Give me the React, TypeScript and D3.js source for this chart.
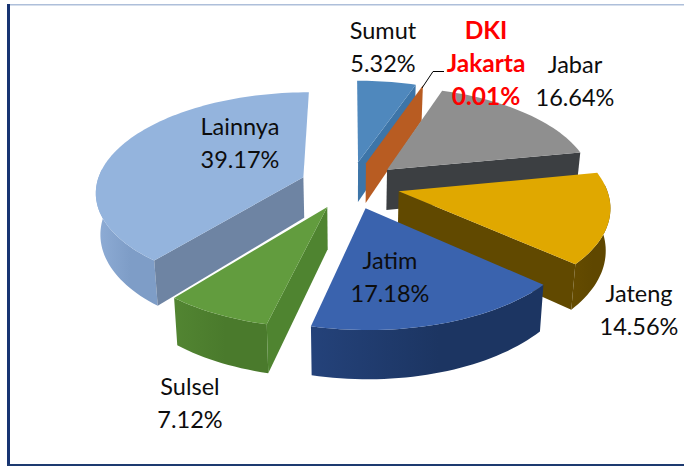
import React from 'react';
import * as d3 from 'd3';

const regions = ['Sumut', 'DKI Jakarta', 'Jabar', 'Jateng', 'Jatim', 'Sulsel', 'Lainnya'];
const shares = [5.32, 0.01, 16.64, 14.56, 17.18, 7.12, 39.17];
const shareLabels = ['5.32%', '0.01%', '16.64%', '14.56%', '17.18%', '7.12%', '39.17%'];

const width = 684;
const height = 466;

// pie geometry, fitted to the reference
const cx = 350;
const cy = 185;
const radius = 207;
const explode = 50;
const tilt = 0.475;
const persp = 0.135;
const depth = 41;
const converge = 0.018; // bottom of the walls leans in a little

const palette: Record<string, { top: string; wall: string; wallHi: string; cut: string }> = {
  Sumut: { top: '#4f88bd', wall: '#3f76a6', wallHi: '#3f76a6', cut: '#3d75a8' },
  'DKI Jakarta': { top: '#b85c22', wall: '#b85c22', wallHi: '#b85c22', cut: '#b85c22' },
  Jabar: { top: '#8f8f8f', wall: '#3c3f42', wallHi: '#45484c', cut: '#3c3f42' },
  Jateng: { top: '#e0a800', wall: '#5f4700', wallHi: '#654c00', cut: '#614900' },
  Jatim: { top: '#3a63ae', wall: '#1c3562', wallHi: '#24427a', cut: '#1c3562' },
  Sulsel: { top: '#629c3e', wall: '#4a7a2c', wallHi: '#528532', cut: '#4f8430' },
  Lainnya: { top: '#94b4dd', wall: '#7e9dc7', wallHi: '#8fadd6', cut: '#6e84a3' },
};

// back to front
const drawOrder = ['Sumut', 'DKI Jakarta', 'Lainnya', 'Jabar', 'Jateng', 'Sulsel', 'Jatim'];

const labelLayout: Record<string, { x: number; y: number; lines: string[]; red?: boolean }> = {
  Sumut: { x: 383, y: 39, lines: ['Sumut'] },
  'DKI Jakarta': { x: 486, y: 39, lines: ['DKI', 'Jakarta'], red: true },
  Jabar: { x: 575, y: 73, lines: ['Jabar'] },
  Jateng: { x: 639, y: 302, lines: ['Jateng'] },
  Jatim: { x: 390, y: 269, lines: ['Jatim'] },
  Sulsel: { x: 190, y: 395, lines: ['Sulsel'] },
  Lainnya: { x: 240, y: 135, lines: ['Lainnya'] },
};

const project = (gx: number, gy: number, z = 0): [number, number] => {
  const f = 1 / (1 + (persp * gy) / radius);
  const lean = 1 - (converge * z) / depth;
  return [cx + gx * f * lean, cy - gy * tilt * f + z * f];
};

const pieData = d3.pie<number>().sort(null)(shares);
const line = d3.line();

const slices = pieData.map((d, i) => {
  const mid = (d.startAngle + d.endAngle) / 2;
  const ox = explode * Math.sin(mid);
  const oy = explode * Math.cos(mid);
  const steps = Math.max(2, Math.ceil((d.endAngle - d.startAngle) / 0.03));
  const angles = d3.range(steps + 1).map(k => d.startAngle + ((d.endAngle - d.startAngle) * k) / steps);
  const toRim = (a: number) => [ox + radius * Math.sin(a), oy + radius * Math.cos(a)] as [number, number];
  return {
    name: regions[i],
    share: shareLabels[i],
    apex: [ox, oy] as [number, number],
    rim: angles.map(toRim),
    frontRim: angles.filter(a => Math.cos(a) < 0.1).map(toRim),
    startAngle: d.startAngle,
    endAngle: d.endAngle,
  };
});

const wallPath = (a: [number, number][]) => {
  const upper = a.map(p => project(p[0], p[1]));
  const lower = a.map(p => project(p[0], p[1], depth)).reverse();
  return line([...upper, ...lower]) + 'Z';
};

const App = () => {
  const ordered = drawOrder.map(n => slices.find(s => s.name === n)!);
  return (
    <svg
      width={width}
      height={height}
      style={{ position: 'absolute', left: 0, top: 0, background: '#fff' }}
      fontFamily="Lato, 'Open Sans', sans-serif"
    >
      <defs>
        {slices.map((s, i) => (
          <linearGradient id={`wall${i}`} key={s.name} x1="0" x2="1" y1="0" y2="0">
            <stop offset="0" stopColor={palette[s.name].wallHi} />
            <stop offset="0.55" stopColor={palette[s.name].wall} />
            <stop offset="1" stopColor={palette[s.name].wall} />
          </linearGradient>
        ))}
      </defs>

      <rect x={8} y={4} width={676} height={1.5} fill="#aebfda" />
      <rect x={7} y={4} width={3} height={462} fill="#173472" />
      <rect x={7} y={464} width={677} height={2} fill="#1d3a70" />

      {ordered.map(s => {
        const c = palette[s.name];
        const idx = regions.indexOf(s.name);
        const topFace = line([s.apex, ...s.rim].map(p => project(p[0], p[1]))) + 'Z';
        // a radial cut face only shows when its normal points at the viewer
        const startShows = Math.sin(s.startAngle) < -0.01;
        const endShows = Math.sin(s.endAngle) > 0.01;
        return (
          <g key={s.name}>
            {s.frontRim.length > 1 && <path d={wallPath(s.frontRim)} fill={`url(#wall${idx})`} />}
            {startShows && <path d={wallPath([s.apex, s.rim[0]])} fill={c.cut} />}
            {endShows && <path d={wallPath([s.apex, s.rim[s.rim.length - 1]])} fill={c.cut} />}
            <path d={topFace} fill={c.top} />
          </g>
        );
      })}

      <path d="M422,88L433,71.5H444" fill="none" stroke="#000" strokeWidth={1} />

      {slices.map(s => {
        const l = labelLayout[s.name];
        const rows = [...l.lines, s.share];
        return (
          <text
            key={s.name}
            textAnchor="middle"
            fontSize={l.red ? 24.5 : 23.5}
            fontWeight={l.red ? 700 : 400}
            fill={l.red ? '#fe0000' : '#0d0d0d'}
          >
            {rows.map((r, k) => (
              <tspan key={k} x={l.x} y={l.y + k * 33}>
                {r}
              </tspan>
            ))}
          </text>
        );
      })}
    </svg>
  );
};

export default App;
